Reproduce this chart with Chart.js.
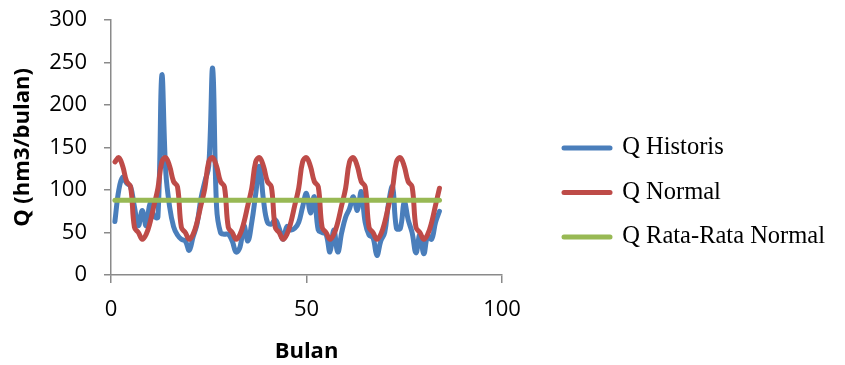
<!DOCTYPE html>
<html>
<head>
<meta charset="utf-8">
<script src="https://cdn.jsdelivr.net/npm/chart.js@4.4.1/dist/chart.umd.min.js"></script>
<style>
  html, body { margin: 0; padding: 0; background: #ffffff; }
  canvas { display: block; }
</style>
</head>
<body>
<canvas id="chart" width="845" height="365"></canvas>
<script>
// Month index (Bulan) along the x axis
const months = Array.from({ length: 84 }, (_, i) => i + 1);

// Historical monthly discharge, hm3/bulan
const qHistoris = [
  63, 100, 115, 108, 104, 80, 58, 76, 58, 84, 69, 68,
  235, 122, 80, 57, 47, 42, 40, 29, 45, 60, 90, 110,
  128, 243, 80, 50, 48, 48, 40, 27, 33, 58, 40, 62,
  95, 128, 88, 62, 60, 65, 55, 42, 57, 53, 55, 62,
  80, 96, 73, 92, 53, 50, 48, 27, 53, 27, 50, 68,
  78, 92, 76, 98, 62, 47, 44, 23, 40, 50, 85, 104,
  55, 55, 86, 65, 50, 26, 48, 25, 46, 42, 62, 75
];

// Normal (monthly mean) discharge, hm3/bulan
const qNormal = [
  133, 138, 128, 110, 104, 56, 50, 42, 48, 62, 82, 102,
  133, 138, 128, 110, 104, 56, 50, 42, 48, 62, 82, 102,
  133, 138, 128, 110, 104, 56, 50, 42, 48, 62, 82, 102,
  133, 138, 128, 110, 104, 56, 50, 42, 48, 62, 82, 102,
  133, 138, 128, 110, 104, 56, 50, 42, 48, 62, 82, 102,
  133, 138, 128, 110, 104, 56, 50, 42, 48, 62, 82, 102,
  133, 138, 128, 110, 104, 56, 50, 42, 48, 62, 82, 102
];

// Average of the normal discharge
const qRataRataNormal = 88;

const seriesNames = ['Q Historis', 'Q Normal', 'Q Rata-Rata Normal'];
const xTickValues = [0, 50, 100];
const yTickValues = [0, 50, 100, 150, 200, 250, 300];

const BLUE = '#4A7EBB';
const RED = '#BE4B48';
const GREEN = '#98B954';
const AXIS = '#8a8a8a';

const toPoints = (vals) => vals.map((v, i) => ({ x: months[i], y: v }));

const lineStyle = (color) => ({
  borderColor: color,
  backgroundColor: color,
  borderWidth: 5,
  pointRadius: 0,
  pointHoverRadius: 0,
  pointBorderWidth: 5,
  pointBorderColor: color,
  borderCapStyle: 'round',
  borderJoinStyle: 'round',
  tension: 0.4,
  fill: false
});

const tickFont = { family: 'Open Sans', size: 22 };
const titleFont = { family: 'Open Sans', size: 22, weight: 'bold' };

new Chart(document.getElementById('chart'), {
  type: 'line',
  data: {
    datasets: [
      Object.assign({ label: seriesNames[0], data: toPoints(qHistoris), order: 3 }, lineStyle(BLUE)),
      Object.assign({ label: seriesNames[1], data: toPoints(qNormal), order: 2 }, lineStyle(RED)),
      Object.assign({
        label: seriesNames[2],
        data: [
          { x: months[0], y: qRataRataNormal },
          { x: months[months.length - 1], y: qRataRataNormal }
        ],
        order: 1
      }, lineStyle(GREEN), { tension: 0 })
    ]
  },
  options: {
    responsive: false,
    animation: false,
    devicePixelRatio: 1,
    events: [],
    layout: { padding: { left: 0, top: 20, right: 10, bottom: 0 } },
    plugins: {
      tooltip: { enabled: false },
      legend: {
        position: 'right',
        align: 'center',
        maxWidth: 400,
        labels: {
          usePointStyle: true,
          pointStyle: 'line',
          pointStyleWidth: 46,
          padding: 20,
          color: '#000000',
          font: { family: 'Liberation Serif', size: 24.5 },
          generateLabels(chart) {
            const items = Chart.defaults.plugins.legend.labels.generateLabels(chart);
            const colors = [BLUE, RED, GREEN];
            items.forEach((it) => {
              it.lineWidth = 5;
              it.lineCap = 'round';
              it.strokeStyle = colors[it.datasetIndex];
              it.fillStyle = colors[it.datasetIndex];
            });
            return items.sort((a, b) => a.datasetIndex - b.datasetIndex);
          }
        }
      }
    },
    scales: {
      x: {
        type: 'linear',
        min: 0,
        max: 100,
        afterBuildTicks: (s) => { s.ticks = xTickValues.map((v) => ({ value: v })); },
        afterFit: (s) => { s.height = 90; s.paddingLeft = 0; s.paddingRight = 0; },
        grid: { display: true, drawOnChartArea: false, drawTicks: true, tickLength: 8, color: AXIS, lineWidth: 1.5 },
        border: { display: true, color: AXIS, width: 1.5 },
        ticks: { color: '#000000', font: tickFont, padding: 14, maxRotation: 0 },
        title: { display: true, text: 'Bulan', color: '#000000', font: titleFont, padding: { top: 0, bottom: 0 } }
      },
      y: {
        type: 'linear',
        min: 0,
        max: 300,
        afterBuildTicks: (s) => { s.ticks = yTickValues.map((v) => ({ value: v })); },
        afterFit: (s) => { s.width = 111; s.paddingTop = 0; s.paddingBottom = 0; },
        grid: { display: true, drawOnChartArea: false, drawTicks: true, tickLength: 7, color: AXIS, lineWidth: 1.5 },
        border: { display: true, color: AXIS, width: 1.5 },
        ticks: { color: '#000000', font: tickFont, padding: 17 },
        title: { display: true, text: 'Q (hm3/bulan)', color: '#000000', font: titleFont, padding: { top: 10, bottom: 0 } }
      },
      // empty spacer between the plot and the legend
      gap: {
        type: 'linear',
        position: 'right',
        display: true,
        afterFit: (s) => { s.width = 42; s.paddingTop = 0; s.paddingBottom = 0; },
        grid: { display: false },
        border: { display: false },
        ticks: { display: false }
      }
    }
  }
});
</script>
</body>
</html>
